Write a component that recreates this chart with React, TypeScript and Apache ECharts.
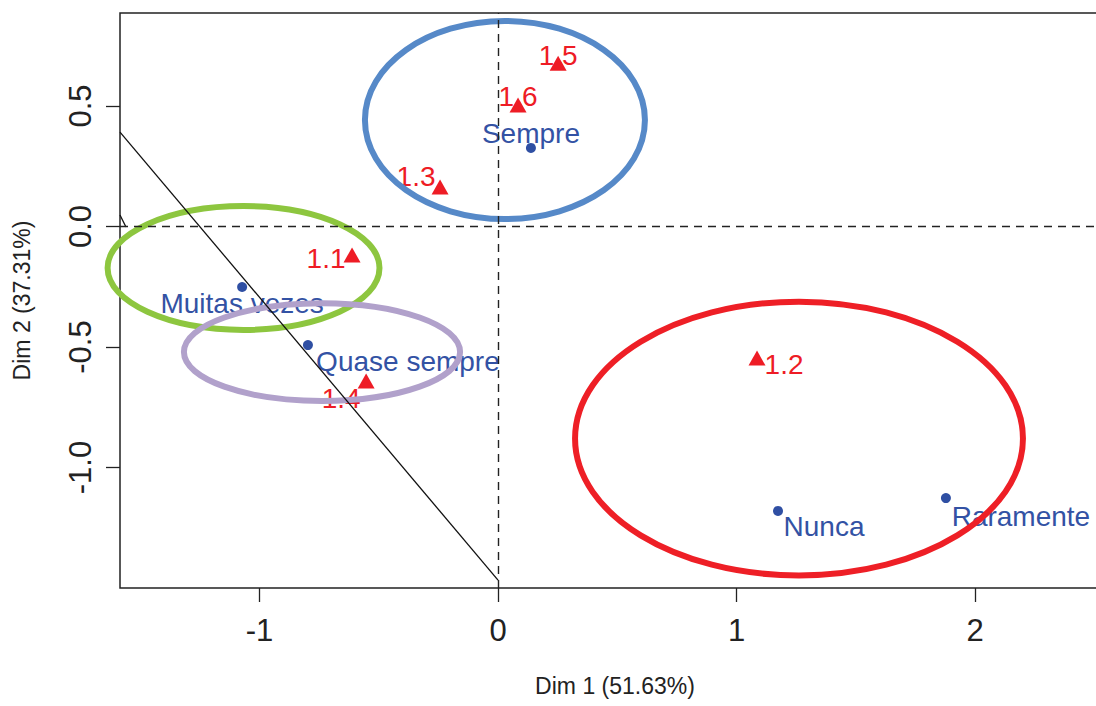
import React, { useEffect, useRef } from "react";
import * as echarts from "echarts";

// Column categories (blue points)
const colLabels = ["Sempre", "Muitas vezes", "Quase sempre", "Nunca", "Raramente"];
const colX = [0.138, -1.073, -0.797, 1.174, 1.878];
const colY = [0.326, -0.251, -0.492, -1.18, -1.127];

// Row categories (red triangles)
const rowLabels = ["1.1", "1.2", "1.3", "1.4", "1.5", "1.6"];
const rowX = [-0.612, 1.086, -0.243, -0.553, 0.252, 0.084];
const rowY = [-0.118, -0.546, 0.164, -0.641, 0.678, 0.504];

// Ellipses (centre and radii in data units)
const ellCx = [0.029, -1.067, -0.738, 1.262];
const ellCy = [0.442, -0.172, -0.521, -0.88];
const ellRx = [0.587, 0.57, 0.579, 0.939];
const ellRy = [0.411, 0.257, 0.203, 0.568];

// Straight black lines
const line1X = [-1.585, 0];
const line1Y = [0.392, -1.467];
const line2X = [-1.585, -1.56];
const line2Y = [0.048, -0.002];

// Axis ticks / ranges
const xTicks = [-1, 0, 1, 2];
const yTicks = [-1, -0.5, 0, 0.5];
const xMin = -1.585;
const xMax = 2.566;
const yMin = -1.5;
const yMax = 0.886;

// styling (not data)
const ellColors = ["#5689c8", "#8dc63f", "#b1a1cb", "#ee1f26"];
const colOffsets = [[0, -14], [0, 16], [100, 16], [46, 16], [75, 18]];
const rowOffsets = [[-26, 4], [27, 6], [-24, -10], [-25, 18], [0, -8], [0, -9]];
const FONT = "'Liberation Sans', Arial, Helvetica, sans-serif";
const BLUE = "#2f4fa3";
const BLUE_TEXT = "#3352a4";
const RED = "#ee1c25";

export default function App() {
  const ref = useRef<HTMLDivElement>(null);
  useEffect(() => {
    if (!ref.current) return;
    const chart = echarts.init(ref.current, null, { renderer: "svg" });
    const colData = colLabels.map((n, i) => ({
      name: n,
      value: [colX[i], colY[i]],
      label: { offset: colOffsets[i] },
    }));
    const rowData = rowLabels.map((n, i) => ({
      name: n,
      value: [rowX[i], rowY[i]],
      label: { offset: rowOffsets[i] },
    }));
    const ellData = ellCx.map((c, i) => [c, ellCy[i], ellRx[i], ellRy[i]]);
    chart.setOption({
      animation: false,
      backgroundColor: "#ffffff",
      grid: {
        left: 120,
        top: 13,
        width: 990,
        height: 575,
        containLabel: false,
        outerBoundsMode: "none",
        show: true,
        borderColor: "#222",
        borderWidth: 1.5,
        backgroundColor: "transparent",
      },
      xAxis: {
        type: "value",
        min: xMin,
        max: xMax,
        name: "Dim 1 (51.63%)",
        nameLocation: "middle",
        nameGap: 86,
        nameTextStyle: { fontFamily: FONT, fontSize: 23, color: "#222" },
        axisLine: { show: false, onZero: false },
        splitLine: { show: false },
        axisTick: {
          show: true,
          length: 14,
          inside: false,
          customValues: xTicks,
          lineStyle: { color: "#222", width: 1.3 },
        },
        axisLabel: {
          customValues: xTicks,
          fontFamily: FONT,
          fontSize: 31,
          color: "#222",
          margin: 27,
          formatter: (v: number) => String(v),
        },
      },
      yAxis: {
        type: "value",
        min: yMin,
        max: yMax,
        name: "Dim 2 (37.31%)",
        nameLocation: "middle",
        nameGap: 87,
        nameTextStyle: { fontFamily: FONT, fontSize: 23, color: "#222" },
        axisLine: { show: false, onZero: false },
        splitLine: { show: false },
        axisTick: {
          show: true,
          length: 14,
          inside: false,
          customValues: yTicks,
          lineStyle: { color: "#222", width: 1.3 },
        },
        axisLabel: {
          customValues: yTicks,
          rotate: 90,
          fontFamily: FONT,
          fontSize: 31,
          color: "#222",
          margin: 24,
          formatter: (v: number) => v.toFixed(1),
        },
      },
      series: [
        {
          type: "scatter",
          name: "cols",
          data: colData,
          symbol: "circle",
          symbolSize: 10,
          itemStyle: { color: BLUE, opacity: 1 },
          z: 2,
          label: {
            show: true,
            position: "inside",
            formatter: "{b}",
            fontFamily: FONT,
            fontSize: 28,
            color: BLUE_TEXT,
            opacity: 1,
            textBorderWidth: 0,
            textBorderColor: "transparent",
          },
          markLine: {
            silent: true,
            symbol: "none",
            label: { show: false },
            lineStyle: { color: "#222", type: [8, 6], width: 1.4, opacity: 1 },
            data: [{ xAxis: 0 }, { yAxis: 0 }],
          },
        },
        {
          type: "scatter",
          name: "rows",
          data: rowData,
          symbol: "triangle",
          symbolSize: [17, 15],
          itemStyle: { color: RED, opacity: 1 },
          z: 2,
          label: {
            show: true,
            position: "inside",
            formatter: "{b}",
            fontFamily: FONT,
            fontSize: 28,
            color: RED,
            opacity: 1,
            textBorderWidth: 0,
            textBorderColor: "transparent",
          },
        },
        {
          type: "custom",
          name: "ellipses",
          z: 3,
          silent: true,
          clip: false,
          encode: { x: 0, y: 1 },
          data: ellData,
          renderItem: (params: any, api: any) => {
            const c = api.coord([api.value(0), api.value(1)]);
            const s = api.size([api.value(2), api.value(3)]);
            return {
              type: "ellipse",
              shape: { cx: c[0], cy: c[1], rx: s[0], ry: s[1] },
              style: {
                fill: "none",
                stroke: ellColors[params.dataIndex],
                lineWidth: 6,
              },
            };
          },
        },
        {
          type: "line",
          name: "line1",
          z: 4,
          silent: true,
          symbol: "none",
          data: line1X.map((x, i) => [x, line1Y[i]]),
          lineStyle: { color: "#111", width: 1.3 },
        },
        {
          type: "line",
          name: "line2",
          z: 4,
          silent: true,
          symbol: "none",
          data: line2X.map((x, i) => [x, line2Y[i]]),
          lineStyle: { color: "#111", width: 1.3 },
        },
      ],
    });
    return () => chart.dispose();
  }, []);
  return (
    <div
      ref={ref}
      style={{ position: "fixed", left: 0, top: 0, width: 1096, height: 706, background: "#fff" }}
    />
  );
}
